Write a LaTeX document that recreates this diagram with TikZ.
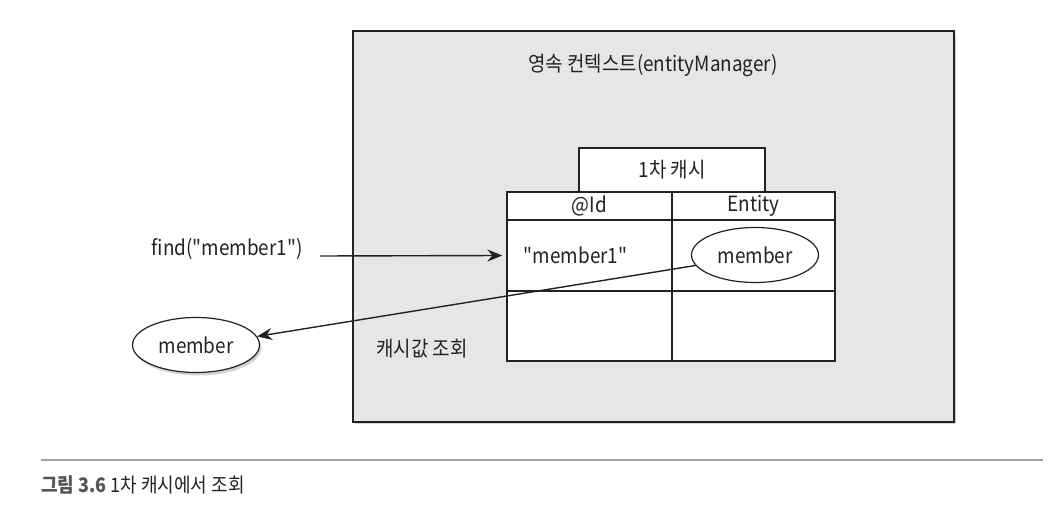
\documentclass[tikz,border=0pt]{standalone}
\usepackage{fontspec}
\setmainfont{Noto Sans CJK KR}[Ligatures=TeXOff, FakeStretch=0.9]
\usepackage{tikz}
\usetikzlibrary{shapes.geometric, arrows.meta, positioning, shadows}
\definecolor{ctxgray}{HTML}{E6E6E6}
\definecolor{rulegray}{HTML}{A4A4A4}
\definecolor{capgray}{HTML}{555555}
\definecolor{ink}{HTML}{222222}
\tikzstyle{context} = [rectangle, draw=ink, line width=1.8pt, fill=ctxgray,
    minimum width=601pt, minimum height=391pt, inner sep=0pt,
    drop shadow={shadow xshift=2pt, shadow yshift=-2pt, opacity=0.35}]
\tikzstyle{cell} = [rectangle, draw=ink, line width=1.3pt, fill=white,
    inner sep=0pt, minimum height=70pt]
\tikzstyle{entity} = [ellipse, draw=ink, line width=1.2pt, fill=white,
    minimum width=127pt, minimum height=55pt, inner sep=0pt]
\tikzstyle{line} = [draw=ink, line width=1.4pt, -{Stealth[length=15pt, width=12pt, inset=5pt]}]

\begin{document}
\begin{tikzpicture}[x=1pt, y=-1pt, font=\fontsize{21}{24}\selectfont, text=ink]
    \useasboundingbox (0,0) rectangle (1060,518);
    % Nodes
    \node [context] (context) at (653.5,226.5) {};
    \node (title) at (653,65) {영속 컨텍스트(entityManager)};
    \node [cell, minimum width=186pt, minimum height=44pt] (cache) at (672,170) {1차 캐시};
    \node [cell, minimum width=165pt, minimum height=28pt] (idhead) at (589.5,206) {@Id};
    \node [cell, minimum width=163pt, minimum height=28pt] (enthead) at (753.5,206) {Entity};
    \node [cell, minimum width=165pt, minimum height=71pt] (keycell) at (589.5,255.5) {};
    \node [cell, minimum width=163pt, minimum height=71pt] (valcell) at (753.5,255.5) {};
    \node [cell, minimum width=165pt] (keyrow) at (589.5,326) {};
    \node [cell, minimum width=163pt] (valrow) at (753.5,326) {};
    \node [right=14pt of keycell.west, anchor=west] (key) {"member1"};
    \node [entity] (entity) at (755,255) {member};
    \node [anchor=base east] (find) at (306,256) {find("member1")};
    \node [entity, drop shadow={shadow xshift=2pt, shadow yshift=-3pt, opacity=0.35}] (member) at (196,345) {member};
    \node (lookup) at (422,349) {캐시값 조회};
    % Edges
    \path [line] ([xshift=14pt]find.base east) -- ([xshift=-4pt]keycell.west);
    \path [line] (entity.190) -- (member.8);
    % Caption
    \draw [rulegray, line width=2pt] (41,460) -- (1043,460);
    \node [anchor=base west, inner sep=0pt, font=\fontsize{20}{23}\selectfont] (caption) at (41,492)
        {\textcolor{capgray}{\bfseries 그림 3.6} \textcolor{ink}{1차 캐시에서 조회}};
\end{tikzpicture}
\end{document}
